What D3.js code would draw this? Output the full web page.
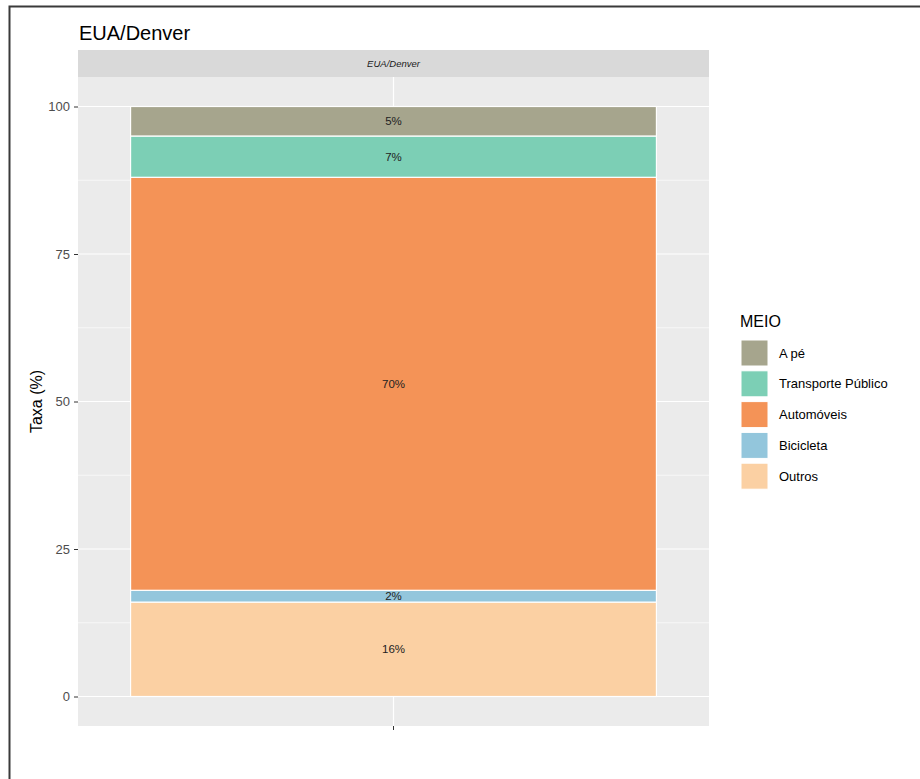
<!DOCTYPE html>
<html>
<head>
<meta charset="utf-8">
<script src="https://cdn.jsdelivr.net/npm/d3@7"></script>
<style>
  body { margin: 0; background: #fff; }
  svg { display: block; font-family: "Liberation Sans", Arial, sans-serif; }
</style>
</head>
<body>
<svg id="chart" width="920" height="779"></svg>
<script>
// Modal share for Denver, stacked from bottom to top
const cities = ["EUA/Denver"];
const modes = ["Outros", "Bicicleta", "Automóveis", "Transporte Público", "A pé"];
const shares = [16, 2, 70, 7, 5];
const legendOrder = ["A pé", "Transporte Público", "Automóveis", "Bicicleta", "Outros"];
const modeColors = ["#FBD0A3", "#93C6DC", "#F49357", "#7CCFB5", "#A6A58D"];
const yTicks = [0, 25, 50, 75, 100];

const svg = d3.select("#chart");

// outer frame
svg.append("rect").attr("x", 9.5).attr("y", 6.5).attr("width", 940).attr("height", 800)
  .attr("fill", "none").attr("stroke", "#3a3a3a").attr("stroke-width", 2);

const panel = { left: 78, right: 709, top: 77, bottom: 726 };

const x = d3.scaleBand().domain(cities).range([panel.left, panel.right])
  .paddingInner(0).paddingOuter(0.1);
const y = d3.scaleLinear().domain([-5, 105]).range([panel.bottom, panel.top]);
const color = d3.scaleOrdinal().domain(modes).range(modeColors);

// title
svg.append("text").attr("x", 79).attr("y", 40).attr("font-size", 20).attr("fill", "#000")
  .text("EUA/Denver");

// facet strip
svg.append("rect").attr("x", panel.left).attr("y", 50).attr("width", panel.right - panel.left)
  .attr("height", panel.top - 50).attr("fill", "#D9D9D9");
svg.append("text").attr("x", (panel.left + panel.right) / 2).attr("y", 67)
  .attr("text-anchor", "middle").attr("font-size", 9.5).attr("font-style", "italic")
  .attr("fill", "#1a1a1a").text(cities[0]);

// panel background and grid
svg.append("rect").attr("x", panel.left).attr("y", panel.top).attr("width", panel.right - panel.left)
  .attr("height", panel.bottom - panel.top).attr("fill", "#EBEBEB");
const minor = d3.range(-12.5, 105, 25).filter(v => v > -5 && v < 105);
svg.append("g").selectAll("line").data(minor).join("line")
  .attr("x1", panel.left).attr("x2", panel.right)
  .attr("y1", d => y(d)).attr("y2", d => y(d))
  .attr("stroke", "#fff").attr("stroke-width", 0.6);
svg.append("g").selectAll("line").data(yTicks).join("line")
  .attr("x1", panel.left).attr("x2", panel.right)
  .attr("y1", d => y(d)).attr("y2", d => y(d))
  .attr("stroke", "#fff").attr("stroke-width", 1.2);
svg.append("g").selectAll("line").data(cities).join("line")
  .attr("x1", d => x(d) + x.bandwidth() / 2).attr("x2", d => x(d) + x.bandwidth() / 2)
  .attr("y1", panel.top).attr("y2", panel.bottom)
  .attr("stroke", "#fff").attr("stroke-width", 1.2);

// stacked bars
const row = {};
modes.forEach((m, i) => row[m] = shares[i]);
const series = d3.stack().keys(modes)([row]);
const bars = svg.append("g");
series.forEach(s => {
  const d = s[0];
  bars.append("rect")
    .attr("x", x(cities[0])).attr("width", x.bandwidth())
    .attr("y", y(d[1])).attr("height", y(d[0]) - y(d[1]))
    .attr("fill", color(s.key)).attr("stroke", "#fff").attr("stroke-width", 1.2);
  bars.append("text")
    .attr("x", x(cities[0]) + x.bandwidth() / 2).attr("y", y((d[0] + d[1]) / 2))
    .attr("dy", "0.35em").attr("text-anchor", "middle").attr("font-size", 11.5)
    .attr("fill", "#222").text(d.data[s.key] + "%");
});

// y axis
const yAxis = svg.append("g").attr("transform", `translate(${panel.left},0)`)
  .call(d3.axisLeft(y).tickValues(yTicks).tickSize(4).tickPadding(4));
yAxis.select(".domain").remove();
yAxis.selectAll("line").attr("stroke", "#333");
yAxis.selectAll("text").attr("font-size", 13).attr("fill", "#4D4D4D")
  .attr("font-family", "Liberation Sans, Arial, sans-serif");

// x axis (tick only, empty label)
const xAxis = svg.append("g").attr("transform", `translate(0,${panel.bottom})`)
  .call(d3.axisBottom(x).tickSize(4).tickFormat(() => ""));
xAxis.select(".domain").remove();
xAxis.selectAll("line").attr("stroke", "#333");

// y axis title
svg.append("text").attr("transform", `translate(42,${(panel.top + panel.bottom) / 2}) rotate(-90)`)
  .attr("text-anchor", "middle").attr("font-size", 16).attr("fill", "#000").text("Taxa (%)");

// legend
const legend = svg.append("g");
legend.append("text").attr("x", 740).attr("y", 327).attr("font-size", 16).attr("fill", "#000").text("MEIO");
legendOrder.forEach((m, i) => {
  const ky = 340 + i * 30.8;
  legend.append("rect").attr("x", 741).attr("y", ky).attr("width", 27).attr("height", 26)
    .attr("fill", color(m)).attr("stroke", "#fff").attr("stroke-width", 1);
  legend.append("text").attr("x", 779).attr("y", ky + 13).attr("dy", "0.35em")
    .attr("font-size", 13).attr("fill", "#000").text(m);
});
</script>
</body>
</html>
